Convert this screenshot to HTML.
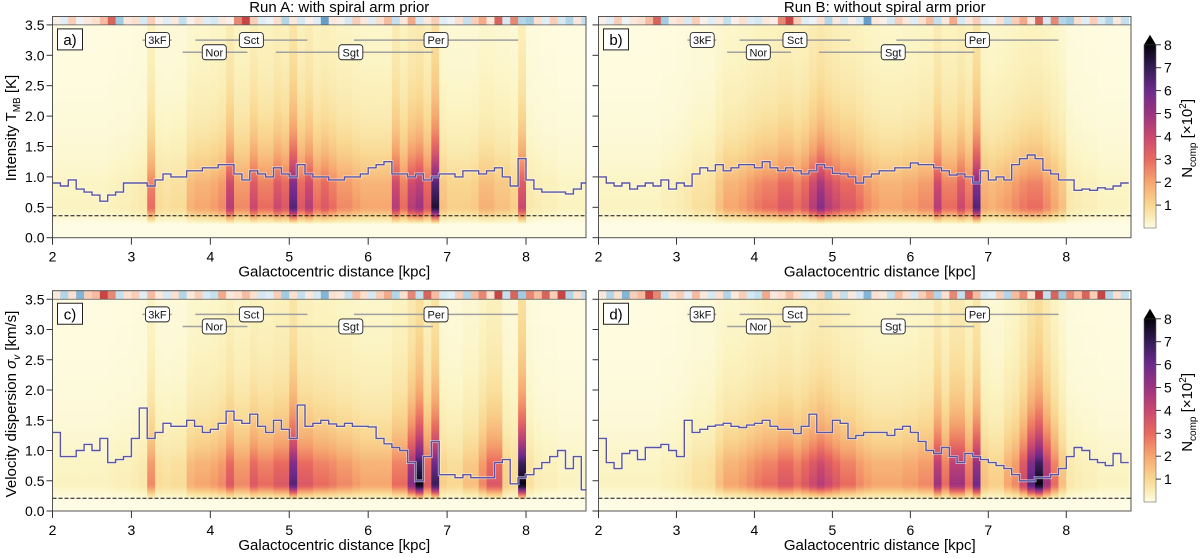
<!DOCTYPE html>
<html><head><meta charset="utf-8"><style>
body{margin:0;background:#fff;}
svg{display:block;font-family:"Liberation Sans",Arial,sans-serif;}
</style></head><body>
<svg id="chart" width="1200" height="558" viewBox="0 0 1200 558" xmlns="http://www.w3.org/2000/svg"><defs id="defs"></defs></svg>
<script>
// ---- data (bins of 0.1 kpc starting at 2.0 kpc) ----
const binStart = 2.0;
const binWidth = 0.1;
const densA = [.3,.3,.3,.3,.3,.3,.3,.35,.4,.4, .5,.6,3,.9,.8,.9,.9,1.8,2,2, 2.2,2.5,4.5,2.5,2.5,4,3,3,4,3.5, 6.5,3.5,4.5,3,3.5,3,2.5,2.5,2.2,2, 2,2,2,4.5,3,4.5,5,3.5,7.5,1.5, 1.2,1.2,1.2,1.3,1.8,1.8,1.5,1.5,1.2,4, .6,.5,.4,.4,.3,.3,.3,.3];
const densB = [.3,.3,.3,.3,.3,.3,.3,.3,.4,.4, .5,.6,.8,.8,.9,1.5,2,2,2.2,2.5, 2.8,3,3,3.5,3.5,3,3.5,4.5,5.5,4.5, 4,3.5,3.5,3,2.5,2.2,2,2,2,2.2, 2.2,2.5,2.5,4.5,3,3,4,3,6.5,2, 1.8,2,2.2,2.5,2.8,3,3,2.5,2,1.5, .6,.5,.4,.4,.3,.3,.3,.3];
const densC = [.3,.3,.3,.3,.3,.3,.3,.35,.4,.4, .5,.6,2.5,.9,.8,.9,.9,1.8,2,2, 2.2,2.5,3.5,2.5,2.5,3.5,3,3,3.5,3.5, 6.5,3.5,3.5,3,3,2.8,2.5,2.5,2.2,2, 2,2,2,3,3,5.5,8,3.5,7,1.2, 1,1,1.5,1.5,2.5,3.5,3.5,1.2,1,8, .8,.5,.4,.4,.3,.3,.3,.3];
const densD = [.3,.3,.3,.3,.3,.3,.3,.3,.4,.4, .5,.6,.8,.8,.9,1.5,2,2,2.2,2.5, 2.8,3,3,3.5,3.5,3,3.5,4,4.5,4, 3.5,3,3,2.5,2.2,2,2,2,2,2.2, 2.2,2.5,2.5,5,3,5,5,3,6,1.5, 1.2,1.2,2,2.5,4,6.5,8,5,3,1.5, .6,.5,.4,.4,.3,.3,.3,.3];
const lineA = [.9,.85,.95,.8,.75,.7,.6,.7,.75,.9, .9,.9,.85,.95,1.05,1,1,1.1,1.1,1.15, 1.15,1.2,1.2,1.05,.95,1.1,1.05,1,1.15,1.05, 1,1.2,1.05,1,1,.95,.95,1,1,1.05, 1.15,1.2,1.25,1.05,1.05,1,1.05,.95,1,1.05, 1.05,1,1.1,1.1,1.05,1.1,1.15,1,.85,1.3, .95,.8,.75,.75,.75,.72,.8,.9];
const lineB = [1,.9,.85,.9,.8,.85,.9,.85,.95,.8, .9,.85,1.05,1.15,1.1,1.2,1.1,1.15,1.2,1.2, 1.15,1.25,1.15,1.1,1.15,1.1,1.05,1.1,1.2,1.15, 1.06,1.05,1.0,.9,1.0,1.05,1.1,1.1,1.15,1.15, 1.23,1.2,1.2,1.15,1.1,1.03,1.05,1.0,.9,1.1, .95,1.0,.95,1.2,1.3,1.36,1.3,1.11,1.05,.95, .95,.78,.8,.78,.82,.8,.85,.9];
const lineC = [1.3,.9,.9,1,1.1,1,1.2,.8,.85,.9, 1.2,1.7,1.2,1.3,1.45,1.4,1.4,1.5,1.4,1.3, 1.35,1.45,1.65,1.5,1.45,1.6,1.4,1.3,1.5,1.35, 1.2,1.75,1.4,1.45,1.5,1.44,1.4,1.45,1.4,1.4, 1.39,1.2,1.11,1.05,1,.8,.5,.9,1.15,.6, .6,.55,.6,.55,.55,.55,.8,.85,.45,.55, .6,.7,.8,.9,1,.7,.9,.35];
const lineD = [1.2,.8,.7,.95,1,.85,1.05,1.05,1.1,1, .9,1.5,1.3,1.35,1.4,1.42,1.45,1.4,1.38,1.42, 1.45,1.5,1.4,1.35,1.35,1.28,1.4,1.6,1.3,1.3, 1.5,1.45,1.2,1.25,1.3,1.3,1.3,1.25,1.35,1.4, 1.3,1.15,1,.95,1.05,.9,.8,.95,.9,.85, .8,.75,.7,.6,.5,.5,.55,.55,.6,.7, .9,1.05,1,.85,.8,.75,.95,.8];
const stripTop = [.1,-.2,.4,-.1,.2,.3,.5,.8,-.6,.2, .3,-.3,.4,.1,-.2,.2,-.4,.1,.3,-.2, -.3,.2,.1,.7,.9,.4,-.2,-.1,.3,-.5, .2,-.3,.1,-.2,-.8,.2,.1,-.3,.4,.2, -.2,.3,.5,-.4,.2,.6,-.3,.2,.4,-.2, -.1,.3,-.4,.4,.6,.2,.8,-.3,.7,-.5, -.6,.3,-.2,.4,-.3,-.5,.2,-.4];
const stripBot = [.2,-.5,.3,-.7,.4,.5,.9,.7,-.4,.3, .4,-.2,.5,.2,-.3,.3,-.5,.2,.4,-.3, -.4,.6,.2,.3,.5,.3,-.3,-.2,.4,-.6, .3,-.4,.2,-.3,-.7,.3,.2,-.4,.5,.3, -.3,.4,.6,-.5,.3,.7,-.4,.8,.5,-.3, -.2,.4,-.5,.5,.7,.3,.9,-.4,.8,-.6, .7,.5,.8,.4,.9,-.5,.3,-.4];
const yTicks = ["0.0","0.5","1.0","1.5","2.0","2.5","3.0","3.5"];
const xTicks = [2,3,4,5,6,7,8];
const cbTicks = [1,2,3,4,5,6,7,8];
const armNames = ["3kF","Sct","Per","Nor","Sgt"];
const armCenter = [3.33,4.52,6.86,4.05,5.78];
const armFrom = [3.14,3.81,5.82,3.65,4.83];
const armTo = [3.51,5.23,7.9,4.47,6.82];
const armY = [3.25,3.25,3.25,3.05,3.05];

const svg=document.getElementById('chart');
const defs=document.getElementById('defs');
const NS='http://www.w3.org/2000/svg';
function mk(tag,attrs,parent){const e=document.createElementNS(NS,tag);for(const k in attrs)e.setAttribute(k,attrs[k]);(parent||svg).appendChild(e);return e;}

const cmapStops=[[0,[254,252,228]],[0.3,[251,243,192]],[1,[249,216,145]],[2,[246,166,110]],[3,[233,105,95]],[4,[201,71,112]],[5,[155,51,128]],[6,[108,42,140]],[7,[52,28,86]],[8,[5,2,10]]];
function cmap(v){v=Math.max(0,Math.min(8,v));for(let i=1;i<cmapStops.length;i++){const [a,ca]=cmapStops[i-1],[b,cb]=cmapStops[i];if(v<=b){const t=(v-a)/(b-a);return 'rgb('+ca.map((c,j)=>Math.round(c+(cb[j]-c)*t)).join(',')+')';}}return 'rgb(0,0,0)';}
function stripColor(s){const neg=[[0,[247,247,247]],[0.3,[214,232,242]],[0.6,[160,204,226]],[1,[45,112,178]]];const pos=[[0,[247,247,247]],[0.3,[252,224,207]],[0.6,[243,170,138]],[1,[185,35,48]]];const st=s<0?neg:pos;const a=Math.min(1,Math.abs(s));for(let i=1;i<st.length;i++){if(a<=st[i][0]){const t=(a-st[i-1][0])/(st[i][0]-st[i-1][0]);return 'rgb('+st[i-1][1].map((c,j)=>Math.round(c+(st[i][1][j]-c)*t)).join(',')+')';}}return 'rgb(0,0,0)';}
function profile(y,bottom){const lo=bottom?0.18:0.22, pk=bottom?0.42:0.48, pl=bottom?0.8:0.9;if(y<lo)return 0;if(y<pk)return (y-lo)/(pk-lo);if(y<pl)return 1-0.15*(y-pk)/(pl-pk);return Math.exp(-(y-pl)/0.75)*0.77+0.08;}

const panels=[
 {id:'a',x0:52.5,x1:586,xmax:8.76,yb:237.7,ppu:60.8,strip:16.5,dens:densA,line:lineA,stripV:stripTop,dash:0.36,bottom:false,title:'Run A: with spiral arm prior'},
 {id:'b',x0:598.5,x1:1131,xmax:8.83,yb:237.7,ppu:60.8,strip:16.5,dens:densB,line:lineB,stripV:stripTop,dash:0.36,bottom:false,title:'Run B: without spiral arm prior'},
 {id:'c',x0:52.5,x1:586,xmax:8.76,yb:511,ppu:60.5,strip:290.7,dens:densC,line:lineC,stripV:stripBot,dash:0.21,bottom:true},
 {id:'d',x0:598.5,x1:1131,xmax:8.83,yb:511,ppu:60.5,strip:290.7,dens:densD,line:lineD,stripV:stripBot,dash:0.21,bottom:true}
];
const gyLevels=[3.5,3.2,2.9,2.6,2.3,2.0,1.8,1.6,1.4,1.2,1.05,0.9,0.8,0.7,0.6,0.5,0.45,0.4,0.35,0.3,0.25,0.22,0.18,0.1,0];

panels.forEach((p,pi)=>{
 const sx=v=>p.x0+(v-2)/(p.xmax-2)*(p.x1-p.x0);
 const sy=v=>p.yb-v*p.ppu;
 const g=mk('g',{});
 
 
 const bg=mk('rect',{x:p.x0,y:sy(3.5),width:p.x1-p.x0,height:p.yb-sy(3.5),fill:'#fdfbe0'},g);
 
 
 const hm=mk('g',{},g);
 
 
 p.dens.forEach((d,i)=>{
  const xa=binStart+i*binWidth, xb=Math.min(p.xmax,xa+binWidth);
  if(xa>=p.xmax)return;
  const gid='g'+pi+'_'+i;
  const lg=mk('linearGradient',{id:gid,x1:0,y1:0,x2:0,y2:1},defs);
  gyLevels.forEach(yv=>{mk('stop',{offset:((3.5-yv)/3.5).toFixed(4),'stop-color':cmap(d*profile(yv,p.bottom))},lg);});
  const r=mk('rect',{x:sx(xa).toFixed(2),y:sy(3.5),width:(sx(xb)-sx(xa)+0.4).toFixed(2),height:p.yb-sy(3.5),fill:'url(#'+gid+')'},hm);
  
  
 });
 const sg=mk('g',{},g);
 
 
 p.stripV.forEach((s,i)=>{
  const xa=binStart+i*binWidth, xb=Math.min(p.xmax,xa+binWidth);
  if(xa>=p.xmax)return;
  const r=mk('rect',{x:sx(xa).toFixed(2),y:p.strip,width:(sx(xb)-sx(xa)+0.4).toFixed(2),height:sy(3.5)-p.strip,fill:stripColor(s)},sg);
  
  
 });
 const dl=mk('line',{x1:p.x0,x2:p.x1,y1:sy(p.dash),y2:sy(p.dash),stroke:'#111','stroke-width':1,'stroke-dasharray':'4,2'},g);
 
 
 let dpath='';
 p.line.forEach((v,i)=>{const xa=binStart+i*binWidth, xb=Math.min(p.xmax,xa+binWidth);if(xa>=p.xmax)return;dpath+=(i?'L':'M')+sx(xa).toFixed(1)+','+sy(v).toFixed(1)+'L'+sx(xb).toFixed(1)+','+sy(v).toFixed(1);});
 const halo=mk('path',{d:dpath,fill:'none',stroke:'#ffffff','stroke-width':2.8,'stroke-opacity':0.6},g);
 
 
 const ln=mk('path',{d:dpath,fill:'none',stroke:'#5a55a3','stroke-width':1.4},g);
 
 
 armNames.forEach((n,i)=>{
  const ag=mk('g',{},g);
  
  
  mk('line',{x1:sx(armFrom[i]),x2:sx(armTo[i]),y1:sy(armY[i]),y2:sy(armY[i]),stroke:'#a0a0a0','stroke-width':1.5},ag);
  const cx=sx(armCenter[i]),cy=sy(armY[i]);
  mk('rect',{x:cx-12,y:cy-7.5,width:24,height:15,rx:3,fill:'#fff',stroke:'#222','stroke-width':0.9},ag);
  const t=mk('text',{x:cx,y:cy+4,'font-size':11,'text-anchor':'middle',fill:'#111'},ag);t.textContent=n;
 });
 const fr=mk('rect',{x:p.x0,y:p.strip,width:p.x1-p.x0,height:p.yb-p.strip,fill:'none',stroke:'#555','stroke-width':1},g);
 
 
 mk('line',{x1:p.x0,x2:p.x1,y1:sy(3.5),y2:sy(3.5),stroke:'#555','stroke-width':0.8},g);
 const pl=mk('g',{},g);
 
 
 mk('rect',{x:p.x0+5,y:sy(3.5)+4,width:25,height:21,fill:'#fff',stroke:'#222','stroke-width':1},pl);
 const ptx=mk('text',{x:p.x0+17.5,y:sy(3.5)+20,'font-size':15,'text-anchor':'middle'},pl);ptx.textContent=p.id+')';
 const xa=mk('g',{},g);
 
 
 xTicks.forEach(t=>{mk('line',{x1:sx(t),x2:sx(t),y1:p.yb,y2:p.yb+7,stroke:'#333'},xa);const tx=mk('text',{x:sx(t),y:p.yb+24,'font-size':14,'text-anchor':'middle'},xa);tx.textContent=t;});
 const xt=mk('text',{x:(p.x0+p.x1)/2+15,y:p.yb+39,'font-size':15,'text-anchor':'middle'},g);
 xt.textContent='Galactocentric distance [kpc]';
 
 
 const ya=mk('g',{},g);
 
 
 yTicks.forEach(t=>{const v=parseFloat(t);mk('line',{x1:p.x0-6,x2:p.x0,y1:sy(v),y2:sy(v),stroke:'#333'},ya);if(pi%2===0){const tx=mk('text',{x:p.x0-8,y:sy(v)+5,'font-size':14,'text-anchor':'end'},ya);tx.textContent=t;}});
 if(p.title){const tt=mk('text',{x:(p.x0+p.x1)/2+20,y:12,'font-size':15,'text-anchor':'middle'},g);tt.textContent=p.title;
  
  }
});

const yt1=mk('text',{transform:'translate(16,128) rotate(-90)','font-size':15,'text-anchor':'middle'});
yt1.innerHTML='Intensity T<tspan font-size="10" dy="4">MB</tspan><tspan dy="-4"> [K]</tspan>';


const yt2=mk('text',{transform:'translate(16,404) rotate(-90)','font-size':15,'text-anchor':'middle'});
yt2.innerHTML='Velocity dispersion <tspan font-style="italic">σ</tspan><tspan font-size="10" dy="4" font-style="italic">v</tspan><tspan dy="-4"> [km/s]</tspan>';



[0,274].forEach((off,ci)=>{
 const cg=mk('g',{});
 
 
 const cy=v=>228+off-v*22.9;
 const lg=mk('linearGradient',{id:'cb'+ci,x1:0,y1:1,x2:0,y2:0},defs);
 for(let v=0;v<=8;v+=0.5)mk('stop',{offset:(v/8).toFixed(3),'stop-color':cmap(v)},lg);
 mk('rect',{x:1144,y:cy(8),width:12,height:cy(0)-cy(8),fill:'url(#cb'+ci+')',stroke:'#666','stroke-width':0.6},cg);
 mk('path',{d:'M1144,'+cy(8)+'L1150,'+(cy(8)-10)+'L1156,'+cy(8)+'Z',fill:'#000'},cg);
 cbTicks.forEach(t=>{mk('line',{x1:1156,x2:1161,y1:cy(t),y2:cy(t),stroke:'#333'},cg);const tx=mk('text',{x:1164,y:cy(t)+5,'font-size':14},cg);tx.textContent=t;});
 const ct=mk('text',{transform:'translate(1192,'+(cy(4)+2)+') rotate(-90)','font-size':15,'text-anchor':'middle'},cg);
 ct.innerHTML='N<tspan font-size="10" dy="4">comp</tspan><tspan dy="-4"> [×10</tspan><tspan font-size="10" dy="-6">2</tspan><tspan dy="6">]</tspan>';
 
 
});
</script>
</body></html>
